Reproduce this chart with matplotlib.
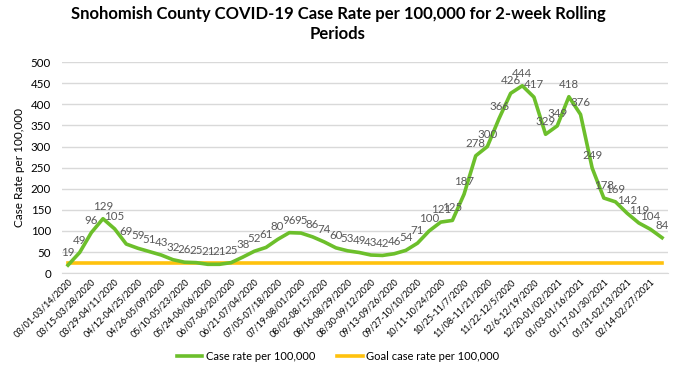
from matplotlib import pyplot as plt
import numpy as np

periods = ["03/01-03/14/2020", "03/15-03/28/2020", "03/29-04/11/2020", "04/12-04/25/2020",
           "04/26-05/09/2020", "05/10-05/23/2020", "05/24-06/06/2020", "06/07-06/20/2020",
           "06/21-07/04/2020", "07/05-07/18/2020", "07/19-08/01/2020", "08/02-08/15/2020",
           "08/16-08/29/2020", "08/30-09/12/2020", "09/13-09/26/2020", "09/27-10/10/2020",
           "10/11-10/24/2020", "10/25-11/7/2020", "11/08-11/21/2020", "11/22-12/5/2020",
           "12/6-12/19/2020", "12/20-01/02/2021", "01/03-01/16/2021", "01/17-01/30/2021",
           "01/31-02/13/2021", "02/14-02/27/2021"]

caseRate = [19, 49, 96, 129, 105, 69, 59, 51, 43, 32, 26, 25, 21, 21, 25, 38, 52, 61, 80, 96,
            95, 86, 74, 60, 53, 49, 43, 42, 46, 54, 71, 100, 121, 125, 187, 278, 300, 366, 426, 444,
            417, 329, 349, 418, 376, 249, 178, 169, 142, 119, 104, 84]
goalRate = 25

green = '#6CBF2B'
yellow = '#FFC20E'
labelColor = '#595959'

plt.rcParams['font.family'] = ['Lato', 'DejaVu Sans']

fig = plt.figure(figsize=(6.76, 3.81), dpi=100)
ax = fig.add_axes([0.092, 0.283, 0.896, 0.554])

x = np.arange(len(caseRate))
ax.plot(x, caseRate, color=green, lw=2.6, label='Case rate per 100,000', zorder=3)
ax.plot(x, [goalRate] * len(x), color=yellow, lw=2.6, label='Goal case rate per 100,000', zorder=2)

for i, v in enumerate(caseRate):
    ax.annotate(str(v), (i, v), xytext=(0, 5), textcoords='offset points',
                ha='center', va='bottom', fontsize=8.3, color=labelColor)

ax.set_xlim(-0.5, len(caseRate) - 0.5)
ax.set_ylim(0, 500)
ax.set_yticks(np.arange(0, 501, 50))
ax.set_xticks(np.arange(0, len(caseRate), 2))
ax.set_xticklabels(periods, rotation=45, ha='right', rotation_mode='anchor', fontsize=6.5)
ax.tick_params(axis='y', labelsize=8.3, length=0, pad=8)
ax.tick_params(axis='x', length=0, pad=3)
ax.grid(axis='y', color='#D9D9D9', lw=1)
ax.set_axisbelow(True)
for s in ['top', 'right', 'left']:
    ax.spines[s].set_visible(False)
ax.spines['bottom'].set_color('#D9D9D9')
ax.set_ylabel('Case Rate per 100,000', fontsize=8.5)

fig.suptitle('Snohomish County COVID-19 Case Rate per 100,000 for 2-week Rolling\nPeriods',
             x=0.5, y=0.985, fontsize=12, fontweight='bold', linespacing=1.3)

fig.legend(loc='center', bbox_to_anchor=(0.5, 0.065), ncol=2, frameon=False,
           fontsize=8, handlelength=2.3, handletextpad=0.3, columnspacing=2)

plt.savefig('out.png', dpi=100)
